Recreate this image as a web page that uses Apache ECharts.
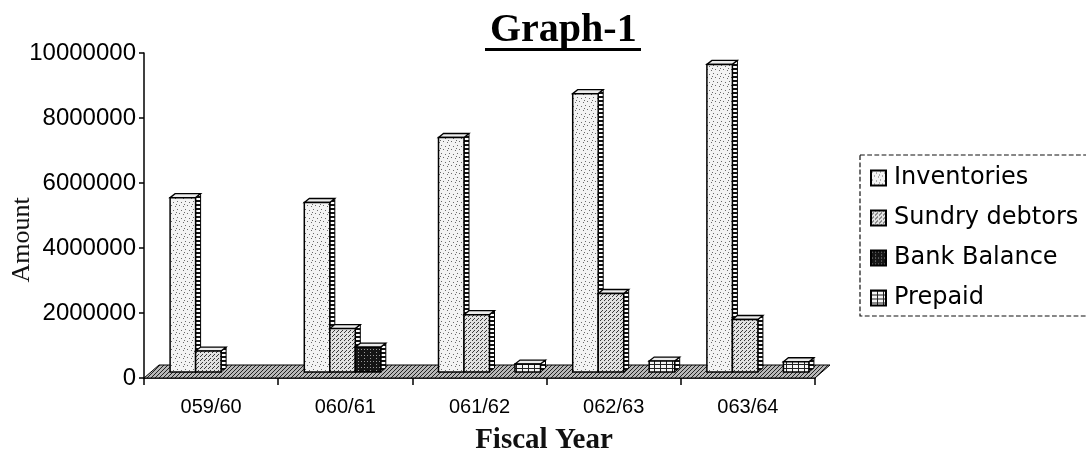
<!DOCTYPE html>
<html>
<head>
<meta charset="utf-8">
<script src="https://cdn.jsdelivr.net/npm/echarts@6/dist/echarts.min.js"></script>
<style>
  html, body { margin: 0; padding: 0; background: #ffffff; }
  #chart { width: 1086px; height: 455px; }
</style>
</head>
<body>
<div id="chart"></div>
<script>
// Fiscal years on the category axis
const categories = ['059/60', '060/61', '061/62', '062/63', '063/64'];

// Current asset components (amount)
const inventories   = [5550000, 5400000, 7400000, 8750000, 9650000];
const sundryDebtors = [830000, 1520000, 1950000, 2600000, 1800000];
const bankBalance   = [0, 950000, 0, 0, 0];
const prepaid       = [0, 0, 430000, 520000, 500000];

const seriesNames = ['Inventories', 'Sundry debtors', 'Bank Balance', 'Prepaid'];
const seriesValues = [inventories, sundryDebtors, bankBalance, prepaid];

// Value axis ticks
const yMin = 0;
const yMax = 10000000;
const yStep = 2000000;

// ---- monochrome fill textures -------------------------------------------
function texture(w, h, bg, paint) {
  const c = document.createElement('canvas');
  c.width = w; c.height = h;
  const g = c.getContext('2d');
  g.fillStyle = bg;
  g.fillRect(0, 0, w, h);
  paint(g);
  return { image: c, repeat: 'repeat' };
}
function dots(g, color, pts) {
  g.fillStyle = color;
  pts.forEach(p => g.fillRect(p[0], p[1], 1, 1));
}

const fills = [
  // speckled light grey
  texture(8, 8, '#f3f3f3', g => dots(g, '#6a6a6a', [[1, 1], [5, 2], [3, 5], [7, 6], [0, 4]])),
  // dotted mid grey
  texture(4, 4, '#e2e2e2', g => dots(g, '#3a3a3a', [[0, 0], [2, 2], [1, 3]])),
  // near-black with light flecks
  texture(6, 6, '#151515', g => dots(g, '#9a9a9a', [[1, 1], [4, 4], [4, 1]])),
  // brick grid
  texture(6, 4, '#f4f4f4', g => { g.fillStyle = '#222'; g.fillRect(0, 0, 6, 1); g.fillRect(0, 0, 1, 4); })
];
const floorFill = texture(4, 4, '#b8b8b8', g => dots(g, '#222', [[0, 0], [2, 2], [3, 1], [1, 3]]));
const sideFill  = texture(4, 4, '#ffffff', g => { g.fillStyle = '#111'; g.fillRect(0, 0, 4, 2); });
const topFill   = '#ececec';

// ---- pseudo-3D geometry ----------------------------------------------------
const CAT_GAP = 0.24;     // gap between category clusters, fraction of the band
const SHIFT = 10;         // perspective shift of the bar fronts
const LIFT = 6;           // bar fronts stand on the middle of the floor
const DX = 5, DY = 4;     // bar depth offset
const FDX = 15, FDY = 13; // floor depth offset

function barRenderer(j) {
  return function (params, api) {
    const i = api.value(0), v = api.value(1);
    if (!v) return null;
    const n = seriesNames.length;
    const band = api.size([1, 0])[0];
    const bw = band * (1 - CAT_GAP) / n;
    const base = api.coord([i, 0]);
    const top = api.coord([i, v]);
    const x0 = base[0] - bw * n / 2 + j * bw + SHIFT;
    const x1 = x0 + bw;
    const y0 = base[1] - LIFT, y1 = top[1];
    return {
      type: 'group',
      children: [
        {
          type: 'polygon',
          shape: { points: [[x1, y1], [x1 + DX, y1 - DY], [x1 + DX, y0 - DY], [x1, y0]] },
          style: { fill: sideFill, stroke: '#000', lineWidth: 1 }
        },
        {
          type: 'polygon',
          shape: { points: [[x0, y1], [x0 + DX, y1 - DY], [x1 + DX, y1 - DY], [x1, y1]] },
          style: { fill: topFill, stroke: '#000', lineWidth: 1.3 }
        },
        {
          type: 'rect',
          shape: { x: x0, y: y1, width: bw, height: y0 - y1 },
          style: { fill: fills[j], stroke: '#000', lineWidth: 1.5 }
        }
      ]
    };
  };
}

const barSeries = seriesNames.map((name, j) => ({
  name: name,
  type: 'custom',
  z: 3,
  silent: true,
  data: seriesValues[j].map((v, i) => [i, v]),
  encode: { x: 0, y: 1 },
  itemStyle: { color: fills[j], borderColor: '#000', borderWidth: 1.2 },
  renderItem: barRenderer(j)
}));

// textured floor under the plot
const floorSeries = {
  type: 'custom',
  name: 'floor',
  z: 1,
  silent: true,
  data: [[0, 0]],
  encode: { x: 0, y: 1 },
  renderItem: function (params, api) {
    const band = api.size([1, 0])[0];
    const c0 = api.coord([0, 0]);
    const xs = c0[0] - band / 2;
    const xe = xs + band * categories.length;
    const y = c0[1];
    return {
      type: 'polygon',
      shape: { points: [[xs, y], [xe, y], [xe + FDX, y - FDY], [xs + FDX, y - FDY]] },
      style: { fill: floorFill, stroke: '#000', lineWidth: 1 }
    };
  }
};

const chart = echarts.init(document.getElementById('chart'), null, { renderer: 'canvas' });

const option = {
  animation: false,
  backgroundColor: '#ffffff',
  title: {
    text: 'Graph-1',
    left: 485,
    top: 6,
    textStyle: { fontFamily: 'Liberation Serif', fontWeight: 'bold', fontSize: 40, color: '#000' }
  },
  legend: {
    data: seriesNames,
    orient: 'vertical',
    left: 860,
    top: 155,
    padding: [11, 30, 6, 10],
    itemGap: 16,
    itemWidth: 15,
    itemHeight: 15,
    icon: 'rect',
    borderColor: '#111',
    borderWidth: 1.2,
    borderType: 'dashed',
    textStyle: { fontFamily: 'DejaVu Sans', fontSize: 24, color: '#000', padding: [0, 0, 0, 3] }
  },
  grid: { left: 144, right: 271, top: 53, bottom: 77, containLabel: false },
  xAxis: {
    type: 'category',
    data: categories,
    axisLine: { lineStyle: { color: '#000', width: 1.5 } },
    axisTick: { show: true, length: 7, lineStyle: { color: '#000', width: 1.5 } },
    axisLabel: { fontFamily: 'Liberation Sans', fontSize: 20, color: '#000', margin: 19 },
    splitLine: { show: false }
  },
  yAxis: {
    type: 'value',
    min: yMin,
    max: yMax,
    interval: yStep,
    axisLine: { show: true, lineStyle: { color: '#000', width: 1.5 } },
    axisTick: { show: true, length: 5, lineStyle: { color: '#000', width: 1.5 } },
    axisLabel: {
      fontFamily: 'Liberation Sans', fontSize: 24, color: '#000', margin: 8,
      formatter: v => String(v)
    },
    splitLine: { show: false }
  },
  graphic: [
    { type: 'rect', left: 485, top: 48, shape: { width: 156, height: 3 }, style: { fill: '#000' } },
    {
      type: 'text', x: 22, y: 240, rotation: Math.PI / 2,
      style: { text: 'Amount', fontFamily: 'Liberation Serif', fontSize: 26, fill: '#111', textAlign: 'center', textVerticalAlign: 'middle' }
    },
    {
      type: 'text', x: 544, y: 441,
      style: { text: 'Fiscal Year', fontFamily: 'Liberation Serif', fontWeight: 'bold', fontSize: 29, fill: '#111', textAlign: 'center', textVerticalAlign: 'middle' }
    }
  ],
  series: [floorSeries].concat(barSeries)
};

chart.setOption(option);
</script>
</body>
</html>
